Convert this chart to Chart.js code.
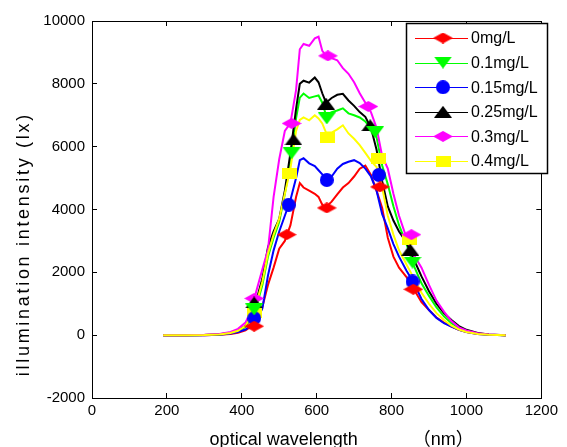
<!DOCTYPE html>
<html><head><meta charset="utf-8">
<script src="https://cdn.jsdelivr.net/npm/chart.js@4/dist/chart.umd.min.js"></script>
<style>html,body{margin:0;padding:0;background:#fff;}#wrap{width:567px;height:447px;position:relative;}</style>
</head><body><div id="wrap"><canvas id="c" width="567" height="447"></canvas></div>
<script>
// ---- data ----
const wavelengths = [190,250,300,340,370,390,410,425,440,455,470,485,500,515,530,545,555,565,580,595,605,615,625,640,655,670,685,700,715,730,745,760,775,790,805,820,840,860,880,900,920,940,960,980,1000,1030,1060,1105];
const seriesLabels = ['0mg/L','0.1mg/L','0.15mg/L','0.25mg/L','0.3mg/L','0.4mg/L'];
const red0    = [0,0,0,10,40,80,150,280,420,900,1600,2150,2750,3000,3500,4400,4840,4700,4600,4500,4400,4150,4080,4250,4480,4700,4840,5050,5300,5400,5100,4600,4050,3100,2500,2150,1850,1450,1050,800,560,400,270,170,100,40,10,0];
const green01 = [0,0,5,25,70,130,260,550,950,1600,2500,3100,3600,4500,5500,6900,7560,7690,7550,7600,7630,7400,7000,7100,7150,7220,7060,7000,6930,6800,6600,6300,5400,4800,4100,3500,2900,2200,1650,1250,880,600,380,230,130,50,15,0];
const blue015 = [0,0,0,15,50,100,180,300,480,850,1900,2700,3300,3800,4300,5000,5570,5630,5470,5380,5250,5120,4950,5050,5300,5450,5520,5570,5480,5300,5050,4600,3850,3400,2900,2500,2050,1650,1150,800,550,380,270,170,100,40,10,0];
const black025= [0,0,5,30,80,150,300,650,1150,1800,2800,3300,3700,4600,5800,7200,8000,8100,8040,8200,8050,7700,7400,7550,7650,7680,7470,7300,7100,6950,6600,5900,4900,4100,3650,3300,2950,2400,1870,1400,1000,700,480,290,170,70,20,0];
const mag03   = [0,0,10,40,100,200,400,800,1450,2100,2720,4400,5600,6500,6750,7800,9100,9270,9210,9450,9500,9050,8900,8820,8750,8500,8320,8050,7700,7400,7100,6600,5700,5300,4500,3800,3100,2550,2150,1600,1100,750,450,250,150,60,20,0];
const yel04   = [0,0,5,25,70,140,300,600,1050,1700,2600,3200,3700,4500,5300,6500,6850,6930,6840,7000,6900,6740,6450,6450,6550,6680,6420,6250,6050,5800,5550,5350,4700,3800,3200,2700,2250,1800,1350,1000,700,480,300,180,100,40,10,0];
// marker samples (wavelength, value) per series
const redMkX = [433,520,627,769,858],   redMkY = [285,3200,4050,4720,1460];
const grnMkX = [433,533,627,756,856],   grnMkY = [820,5790,6900,6460,2310];
const bluMkX = [433,525,627,766,856],   bluMkY = [540,4150,4940,5100,1710];
const blkMkX = [433,538,625,743,850],   blkMkY = [1040,6230,7370,6680,2720];
const magMkX = [433,533,630,738,853],   magMkY = [1170,6740,8890,7280,3200];
const yelMkX = [433,528,630,764,848],   yelMkY = [730,5130,6300,5630,3040];
const xTicks = [0,200,400,600,800,1000,1200];
const yTicks = [-2000,0,2000,4000,6000,8000,10000];
const xTitle = '          optical wavelength           （nm）';
const yTitle = 'illumination intensity (lx)         ';

// ---- marker glyphs ----
function makeMarker(kind, color, w, h){
  const c=document.createElement('canvas'); c.width=w; c.height=h;
  const g=c.getContext('2d'); g.fillStyle=color; g.beginPath();
  if(kind==='diamond'){g.moveTo(w/2,0);g.lineTo(w,h/2);g.lineTo(w/2,h);g.lineTo(0,h/2);}
  else if(kind==='tdown'){g.moveTo(0,0);g.lineTo(w,0);g.lineTo(w/2,h);}
  else if(kind==='tup'){g.moveTo(w/2,0);g.lineTo(w,h);g.lineTo(0,h);}
  else if(kind==='circle'){g.ellipse(w/2,h/2,w/2,h/2,0,0,Math.PI*2);}
  else {g.rect(0,0,w,h);}
  g.closePath(); g.fill(); return c;
}
const colors = ['#ff0000','#00ff00','#0000ff','#000000','#ff00ff','#ffff00'];
const markers = [
  makeMarker('diamond',colors[0],20,11),
  makeMarker('tdown',colors[1],18,12),
  makeMarker('circle',colors[2],14,14),
  makeMarker('tup',colors[3],18,12),
  makeMarker('diamond',colors[4],20,11),
  makeMarker('rect',colors[5],15,11)
];
const lineVals = [red0,green01,blue015,black025,mag03,yel04];
const mkX = [redMkX,grnMkX,bluMkX,blkMkX,magMkX,yelMkX];
const mkY = [redMkY,grnMkY,bluMkY,blkMkY,magMkY,yelMkY];
const lineOrder = [15,14,13,12,11,10];

const datasets = [];
for(let i=0;i<6;i++){
  datasets.push({label:seriesLabels[i], data:wavelengths.map((w,k)=>({x:w,y:lineVals[i][k]})),
    borderColor:colors[i], borderWidth:2, pointRadius:0, fill:false, tension:0, order:lineOrder[i]});
}
for(let i=0;i<6;i++){
  datasets.push({label:seriesLabels[i]+' markers', data:mkX[i].map((w,k)=>({x:w,y:mkY[i][k]})),
    showLine:false, pointStyle:markers[i], pointRadius:6, borderColor:colors[i], backgroundColor:colors[i], order:i});
}

const FONT = '"Liberation Sans", Arial, "Noto Sans CJK SC", sans-serif';

const legendPlugin = {
  id:'matlabLegend',
  afterDraw(chart){
    const ctx=chart.ctx; const x0=406, y0=23, x1=548, y1=174;
    ctx.save();
    ctx.fillStyle='#fff'; ctx.fillRect(x0,y0,x1-x0,y1-y0);
    ctx.strokeStyle='#000'; ctx.lineWidth=1.5; ctx.strokeRect(x0+0.5,y0+0.5,x1-x0-1,y1-y0-1);
    ctx.font='16px '+FONT; ctx.textBaseline='middle'; ctx.textAlign='left';
    for(let i=0;i<6;i++){
      const y = 38 + i*24.6;
      ctx.strokeStyle=colors[i]; ctx.lineWidth=1;
      ctx.beginPath(); ctx.moveTo(415,Math.round(y)+0.5); ctx.lineTo(468,Math.round(y)+0.5); ctx.stroke();
      const m=markers[i]; ctx.drawImage(m,443-m.width/2,y-m.height/2);
      ctx.fillStyle='#000'; ctx.fillText(seriesLabels[i],471,y+1);
    }
    ctx.restore();
  }
};
// widen the letter spacing of the y-axis title (the reference title is spaced out)
const ySpacing = {
  id:'ySpacing',
  beforeDraw(chart){
    const s=chart.scales.y;
    if(!s._spaced){
      const orig=s.drawTitle;
      s.drawTitle=function(){ const c=this.ctx; c.save(); c.letterSpacing='2.7px'; orig.call(this); c.restore(); };
      s._spaced=true;
    }
  }
};
const plainTick = v => String(v);

new Chart(document.getElementById('c'),{
  type:'line',
  data:{datasets},
  options:{
    responsive:false, animation:false, devicePixelRatio:1,
    layout:{padding:0},
    plugins:{legend:{display:false}, tooltip:{enabled:false}},
    scales:{
      x:{type:'linear', position:'bottom', min:0, max:1200,
        afterBuildTicks:s=>{s.ticks=xTicks.map(v=>({value:v}));},
        ticks:{color:'#000', font:{family:FONT,size:15}, padding:9, maxRotation:0, autoSkip:false, callback:plainTick},
        grid:{drawOnChartArea:false, tickLength:-5, color:'#000', tickColor:'#000'},
        border:{display:true,color:'#000',width:1},
        title:{display:true, text:xTitle, color:'#000', font:{family:FONT,size:18}, padding:{top:0,bottom:-4}},
        afterFit:s=>{s.height=49;}},
      x2:{type:'linear', position:'top', min:0, max:1200,
        afterBuildTicks:s=>{s.ticks=xTicks.map(v=>({value:v}));},
        ticks:{display:false},
        grid:{drawOnChartArea:false, tickLength:-5, color:'#000', tickColor:'#000'},
        border:{display:true,color:'#000',width:1},
        afterFit:s=>{s.height=20;}},
      y:{type:'linear', position:'left', min:-2000, max:10000,
        afterBuildTicks:s=>{s.ticks=yTicks.map(v=>({value:v}));},
        ticks:{color:'#000', font:{family:FONT,size:15}, padding:12, autoSkip:false, callback:plainTick},
        grid:{drawOnChartArea:false, tickLength:-5, color:'#000', tickColor:'#000'},
        border:{display:true,color:'#000',width:1},
        title:{display:true, text:yTitle, color:'#000', font:{family:FONT,size:18}, padding:{top:13,bottom:0}},
        afterFit:s=>{s.width=92;}},
      y2:{type:'linear', position:'right', min:-2000, max:10000,
        afterBuildTicks:s=>{s.ticks=yTicks.map(v=>({value:v}));},
        ticks:{display:false},
        grid:{drawOnChartArea:false, tickLength:-5, color:'#000', tickColor:'#000'},
        border:{display:true,color:'#000',width:1},
        afterFit:s=>{s.width=19;}}
    }
  },
  plugins:[legendPlugin, ySpacing]
});
</script></body></html>
